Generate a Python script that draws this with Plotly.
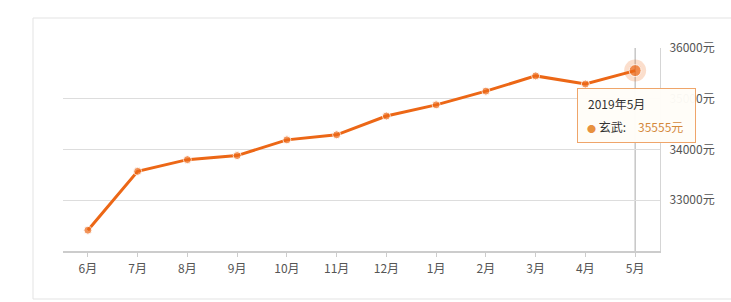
import plotly.graph_objects as go

months = ["6月", "7月", "8月", "9月", "10月", "11月", "12月", "1月", "2月", "3月", "4月", "5月"]
prices = [32410, 33570, 33800, 33880, 34190, 34290, 34660, 34880, 35150, 35450, 35290, 35555]
series_name = "玄武"
tip_title = "2019年5月"
y_ticks = [33000, 34000, 35000, 36000]
y_tick_text = [f"{v}元" for v in y_ticks]

W, H = 731, 302
L, R, T, B = 63, 71, 48, 51
pw = W - L - R
ph = H - T - B

line_color = "#EC6716"
font_family = "Noto Sans CJK SC, Microsoft YaHei, sans-serif"

fig = go.Figure()

# halo on highlighted point
fig.add_trace(go.Scatter(
    x=[months[-1]], y=[prices[-1]], mode="markers",
    marker=dict(size=22, color="rgba(236,103,22,0.22)", line=dict(width=0)),
    hoverinfo="skip", showlegend=False))

fig.add_trace(go.Scatter(
    x=months, y=prices, mode="lines+markers", name=series_name,
    line=dict(color=line_color, width=3),
    marker=dict(size=[8] * (len(months) - 1) + [12], color=line_color),
    showlegend=False))

def px_x(p):
    return (p - L) / pw

def px_y(p):
    return (H - B - p) / ph

shapes = [
    # outer card border
    dict(type="rect", xref="paper", yref="paper",
         x0=px_x(33), x1=px_x(740), y0=px_y(299), y1=px_y(18),
         line=dict(color="#E3E3E3", width=1), fillcolor="rgba(0,0,0,0)", layer="below"),
    # crosshair
    dict(type="line", xref="x", yref="paper", x0=months[-1], x1=months[-1], y0=0, y1=1,
         line=dict(color="#AAAAAA", width=1), layer="below"),
]

px, py = months[-1], prices[-1]
tip_font = dict(family=font_family, size=12, color="#333333")
annotations = [
    # tooltip box
    dict(x=px, y=py, xref="x", yref="y", xanchor="left", yanchor="top",
         xshift=-58, yshift=-17, showarrow=False, text=" ",
         width=117, height=53, borderpad=0,
         bgcolor="rgba(255,253,248,0.97)", bordercolor="#EFA56A", borderwidth=1),
    # title
    dict(x=px, y=py, xref="x", yref="y", xanchor="left", yanchor="middle",
         xshift=-49, yshift=-33, showarrow=False, text=tip_title, font=tip_font),
    # series label
    dict(x=px, y=py, xref="x", yref="y", xanchor="left", yanchor="middle",
         xshift=-50, yshift=-56, showarrow=False,
         text=f"<span style='font-size:9px;color:#E8913F'>●</span> {series_name}:",
         font=tip_font),
    # value
    dict(x=px, y=py, xref="x", yref="y", xanchor="left", yanchor="middle",
         xshift=1, yshift=-56, showarrow=False, text=f"{py}元",
         font=dict(family=font_family, size=12, color="#D4893C")),
]

fig.update_layout(
    width=W, height=H,
    margin=dict(l=L, r=R, t=T, b=B),
    paper_bgcolor="white", plot_bgcolor="white",
    font=dict(family=font_family, size=12, color="#555555"),
    shapes=shapes, annotations=annotations,
    xaxis=dict(type="category", categoryorder="array", categoryarray=months,
               range=[-0.5, len(months) - 0.5],
               showgrid=False, showline=True, linecolor="#CCCCCC", linewidth=2,
               ticks="outside", ticklen=4, tickcolor="#CCCCCC",
               tickfont=dict(size=12, color="#555555", family=font_family),
               ticklabelstandoff=2,
               zeroline=False, fixedrange=True),
    yaxis=dict(side="right", range=[32000, 36000], tickvals=y_ticks, ticktext=y_tick_text,
               showgrid=True, gridcolor="#DDDDDD", gridwidth=1,
               showline=True, linecolor="#D5D5D5", linewidth=1,
               ticks="", tickfont=dict(size=12, color="#555555", family=font_family),
               ticklabelstandoff=6,
               zeroline=False, fixedrange=True),
)

fig.write_html("out.html")
